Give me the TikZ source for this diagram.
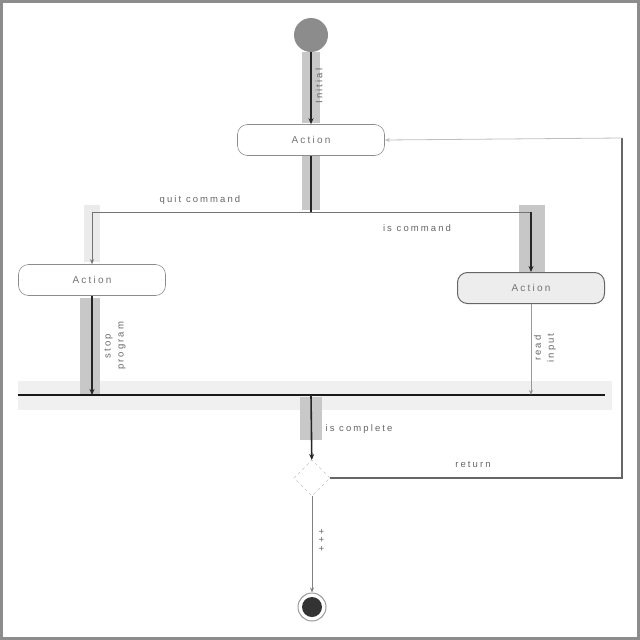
\documentclass[tikz,border=0pt]{standalone}
\usepackage{fontspec}
\setmainfont{Liberation Sans}
\newfontfamily\spacedfont[LetterSpace=22]{Liberation Sans}
\usetikzlibrary{shapes.geometric,arrows.meta}
\definecolor{hlgray}{HTML}{C8C8C8}
\definecolor{bandgray}{HTML}{F0F0F0}
\begin{document}
\begin{tikzpicture}[x=1pt,y=-1pt,
  every node/.style={font=\spacedfont\fontsize{10}{11}\selectfont, text=black!55},
  act/.style={draw=black!45, rounded corners=10pt, minimum width=147pt, minimum height=31pt, fill=white, line width=0.6pt},
  flow/.style={draw=black!85, line width=1.6pt, -{Stealth[length=6pt,width=5pt]}},
  thinflow/.style={draw=black!45, line width=0.8pt, -{Stealth[length=5pt,width=4pt]}},
  lbl/.style={font=\spacedfont\fontsize{9.5}{13}\selectfont, text=black!60},
  rlbl/.style={lbl, rotate=90, align=center}]
\useasboundingbox (0,0) rectangle (640,640);
\draw[black!45, line width=3pt] (1.5,1.5) rectangle (638.5,638.5);
% background highlights
\fill[bandgray] (18,381) rectangle (612,410);
\fill[hlgray] (302,52) rectangle (320,123);
\fill[hlgray] (302,156) rectangle (320,210);
\fill[black!22] (519,205) rectangle (545,272);
\fill[hlgray] (80,298) rectangle (100,395);
\fill[hlgray] (300,397) rectangle (322,440);
\fill[black!8] (84,205) rectangle (100,262);
% nodes
\node[circle, fill=black!45, minimum size=34pt, inner sep=0pt] (start) at (311,35) {};
\node[act] (a1) at (311,140) {Action};
\node[act] (a2) at (92,280) {Action};
\node[act, fill=black!7, draw=black!60, line width=1pt] (a3) at (531,288) {Action};
\coordinate (barL) at (18,395);
\coordinate (barR) at (605,395);
\draw[black!90, line width=2.6pt] (barL) -- (barR);
\coordinate (b1) at (92,395);
\coordinate (b2) at (531,395);
\coordinate (b3) at (311,395);
\node[diamond, draw=black!30, dashed, minimum width=36pt, minimum height=36pt, inner sep=0pt] (dec) at (312,478) {};
\node[circle, draw=black!40, line width=1pt, minimum size=28pt, inner sep=0pt] (fin) at (312,607) {};
\node[circle, fill=black!80, minimum size=20pt, inner sep=0pt] at (fin) {};
\coordinate (split) at (311,212);
\coordinate (sl) at (92,212);
\coordinate (sr) at (531,212);
\coordinate (rr) at (622,478);
\coordinate (rt) at (622,138);
% connectors
\draw[flow] (start) -- (a1);
\draw[black!85, line width=1.6pt] (a1) -- (split);
\draw[black!55, line width=1pt, -{Stealth[length=5pt,width=4pt]}] (split) -- (sl) -- (a2);
\draw[black!55, line width=1pt] (split) -- (sr);
\draw[flow, line width=2pt] (sr) -- (a3);
\draw[flow] (a2) -- (b1);
\draw[thinflow, black!40] (a3) -- (b2);
\draw[flow] (b3) -- (dec);
\draw[black!60, line width=1.2pt] (dec.east) -- (rr) -- (rt);
\draw[thinflow, black!25] (rt) -- (a1.east);
\draw[thinflow, black!50] (dec) -- (fin);
% labels
\node[lbl] (lQuit) at (200,200) {quit command};
\node[lbl] (lIs) at (417,228) {is command};
\node[lbl] (lComp) at (359,429) {is complete};
\node[lbl] (lRet) at (473,464) {return};
\node[rlbl] (lInit) at (319,86) {Initial};
\node[rlbl] (lStop) at (115,346) {stop\\program};
\node[rlbl] (lRead) at (545,348) {read\\input};
\node[rlbl] (lElse) at (322,540) {+\,\,+\,\,+};
\end{tikzpicture}
\end{document}
